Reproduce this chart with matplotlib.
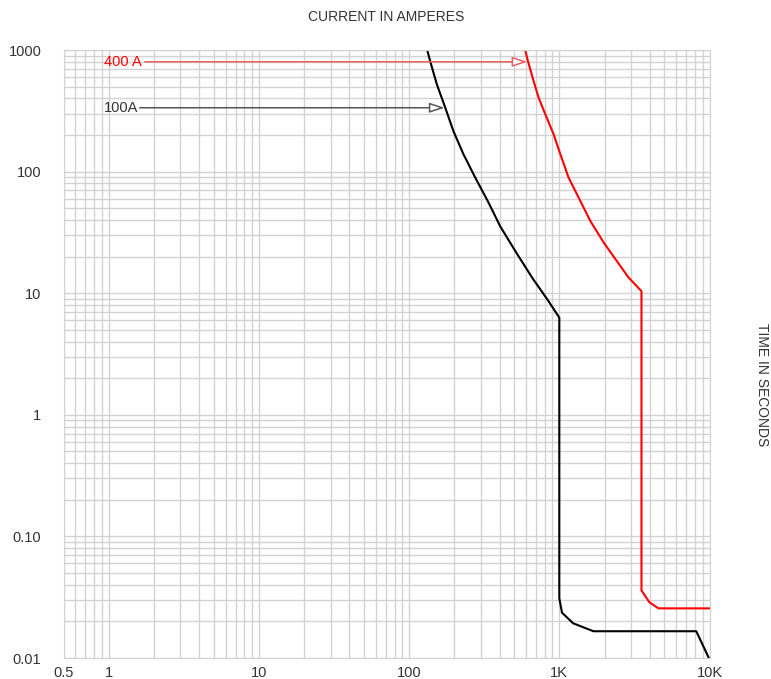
import matplotlib
matplotlib.use("Agg")
import matplotlib.pyplot as plt
from matplotlib.ticker import FixedLocator, FixedFormatter, LogLocator, NullFormatter

plt.rcParams['font.family'] = ['Liberation Sans', 'DejaVu Sans']

# 100 A breaker trip curve (current in A, time in s)
amps_100 = [132, 138, 153, 174, 197, 230, 275, 338, 404, 525, 671, 832, 1000,
            1000, 1042, 1236, 1687, 8165, 9900]
secs_100 = [1000, 812, 522, 336, 216, 139, 89.8, 55.6, 35.5, 20.9, 13, 8.9, 6.3,
            0.031, 0.0236, 0.0193, 0.0166, 0.0166, 0.01]

# 400 A breaker trip curve
amps_400 = [593, 618, 674, 728, 807, 916, 1016, 1153, 1345, 1610, 1974, 2884,
            3524, 3524, 3981, 4571, 10000]
secs_400 = [1000, 812, 556, 406, 296, 203, 139, 89.3, 61.1, 39.2, 26.1, 13.5,
            10.4, 0.036, 0.0287, 0.0256, 0.0256]

# curve labels with leader arrows: (text, label x, arrow start x, arrow end x, y, colours)
labels = [
    ("400 A", 0.93, 1.74, 612, 800, "#ff0000", "#e86060"),
    ("100A", 0.93, 1.61, 172, 335, "#333333", "#555555"),
]

xticks = [0.5, 1, 10, 100, 1000, 10000]
xticklabels = ["0.5", "1", "10", "100", "1K", "10K"]
yticks = [0.01, 0.1, 1, 10, 100, 1000]
yticklabels = ["0.01", "0.10", "1", "10", "100", "1000"]

fig = plt.figure(figsize=(7.71, 6.79), dpi=100)
ax = fig.add_axes([63.5 / 771, 21 / 679, 646 / 771, 608 / 679])
ax.set_xscale("log")
ax.set_yscale("log")
ax.set_xlim(0.5, 10000)
ax.set_ylim(0.01, 1000)

gridc = "#d2d2d2"
ax.xaxis.set_major_locator(FixedLocator(xticks))
ax.xaxis.set_major_formatter(FixedFormatter(xticklabels))
ax.xaxis.set_minor_locator(LogLocator(base=10, subs=range(2, 10), numticks=20))
ax.xaxis.set_minor_formatter(NullFormatter())
ax.yaxis.set_major_locator(FixedLocator(yticks))
ax.yaxis.set_major_formatter(FixedFormatter(yticklabels))
ax.yaxis.set_minor_locator(LogLocator(base=10, subs=range(2, 10), numticks=20))
ax.yaxis.set_minor_formatter(NullFormatter())
ax.grid(True, which="both", color=gridc, linewidth=1.0)
ax.tick_params(which="both", length=0, labelsize=10.5, labelcolor="#333333")
ax.tick_params(axis="x", pad=6)
ax.tick_params(axis="y", pad=16)
for s in ax.spines.values():
    s.set_color(gridc)
ax.set_axisbelow(True)

ax.plot(amps_100, secs_100, color="black", linewidth=1.5)
ax.plot(amps_400, secs_400, color="#ff0000", linewidth=1.5)

for text, tx, x0, x1, y, tc, lc in labels:
    ax.text(tx, y, text, color=tc, fontsize=10.5, va="center", ha="left")
    ax.annotate("", xy=(x1, y), xytext=(x0, y),
                arrowprops=dict(arrowstyle="-|>,head_length=0.9,head_width=0.3",
                                color=lc, fc="white", lw=1.1, shrinkA=0, shrinkB=0))

fig.text(386 / 771, 1 - 17 / 679, "CURRENT IN AMPERES", ha="center", va="center",
         fontsize=10, color="#333333")
fig.text(762 / 771, 1 - 385 / 679, "TIME IN SECONDS", ha="center", va="center",
         rotation=270, fontsize=10, color="#333333")

fig.savefig("out.png", dpi=100)
